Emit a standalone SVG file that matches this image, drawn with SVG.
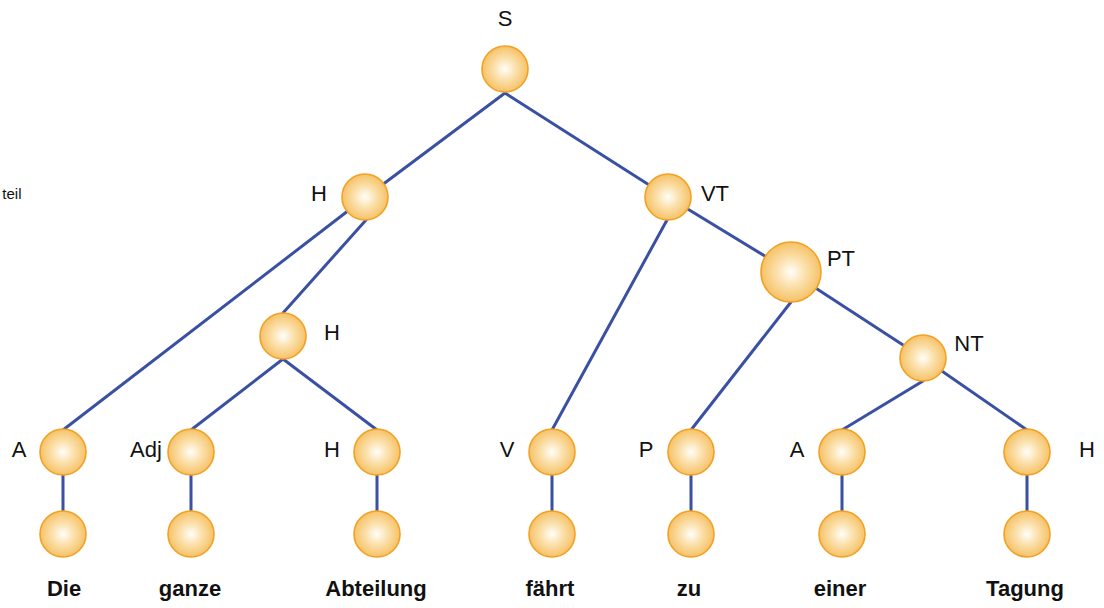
<svg xmlns="http://www.w3.org/2000/svg" width="1104" height="608" viewBox="0 0 1104 608">
<defs>
<radialGradient id="ball" cx="0.5" cy="0.5" r="0.5">
<stop offset="0" stop-color="#fffefa"/>
<stop offset="0.45" stop-color="#fbe2b0"/>
<stop offset="1" stop-color="#f6c266"/>
</radialGradient>
<style>
.n{fill:url(#ball);stroke:#f2a124;stroke-width:1.6}
.e{stroke:#3a51a3;stroke-width:3;fill:none;stroke-linecap:round}
.l{font-family:"Liberation Sans",Arial,sans-serif;font-size:22px;fill:#111;text-anchor:middle}
.w{font-family:"Liberation Sans",Arial,sans-serif;font-size:22px;font-weight:bold;fill:#111;text-anchor:middle}
</style>
</defs>
<rect width="1104" height="608" fill="#fff"/>
<g id="connectors">
<line class="e" x1="505" y1="93" x2="366" y2="197"/>
<line class="e" x1="505" y1="93" x2="668" y2="197"/>
<line class="e" x1="366" y1="197" x2="63" y2="430"/>
<line class="e" x1="366" y1="220" x2="283" y2="313"/>
<line class="e" x1="283" y1="359" x2="191" y2="430"/>
<line class="e" x1="283" y1="359" x2="377" y2="430"/>
<line class="e" x1="667" y1="220" x2="552" y2="430"/>
<line class="e" x1="668" y1="197" x2="791" y2="272"/>
<line class="e" x1="791" y1="302" x2="691" y2="430"/>
<line class="e" x1="791" y1="272" x2="923" y2="358"/>
<line class="e" x1="923" y1="381" x2="842" y2="430"/>
<line class="e" x1="923" y1="358" x2="1027" y2="430"/>
<line class="e" x1="63" y1="452" x2="63" y2="534"/>
<line class="e" x1="191" y1="452" x2="191" y2="534"/>
<line class="e" x1="377" y1="452" x2="377" y2="534"/>
<line class="e" x1="552" y1="452" x2="552" y2="534"/>
<line class="e" x1="691" y1="452" x2="691" y2="534"/>
<line class="e" x1="842" y1="452" x2="842" y2="534"/>
<line class="e" x1="1027" y1="452" x2="1027" y2="534"/>
</g>
<g id="n-S"><circle class="n" cx="505" cy="69" r="23"/><text class="l" x="505" y="26">S</text></g>
<g id="n-H1"><circle class="n" cx="365" cy="197" r="23"/><text class="l" x="319" y="201">H</text></g>
<g id="n-VT"><circle class="n" cx="668" cy="197" r="23"/><text class="l" x="715" y="201">VT</text></g>
<g id="n-PT"><circle class="n" cx="791" cy="272" r="30"/><text class="l" x="841" y="266">PT</text></g>
<g id="n-H2"><circle class="n" cx="283" cy="336" r="23"/><text class="l" x="332" y="340">H</text></g>
<g id="n-NT"><circle class="n" cx="923" cy="358" r="23"/><text class="l" x="969" y="351">NT</text></g>
<g id="n-A1"><circle class="n" cx="63" cy="452" r="23"/><text class="l" x="19" y="457">A</text></g>
<g id="n-Adj"><circle class="n" cx="191" cy="452" r="23"/><text class="l" x="146" y="457">Adj</text></g>
<g id="n-H3"><circle class="n" cx="377" cy="452" r="23"/><text class="l" x="332" y="457">H</text></g>
<g id="n-V"><circle class="n" cx="552" cy="452" r="23"/><text class="l" x="507" y="457">V</text></g>
<g id="n-P"><circle class="n" cx="691" cy="452" r="23"/><text class="l" x="646" y="457">P</text></g>
<g id="n-A2"><circle class="n" cx="842" cy="452" r="23"/><text class="l" x="797" y="457">A</text></g>
<g id="n-H4"><circle class="n" cx="1027" cy="452" r="23"/><text class="l" x="1087" y="457">H</text></g>
<g id="n-Die"><circle class="n" cx="63" cy="534" r="23"/><text class="w" x="64" y="596">Die</text></g>
<g id="n-ganze"><circle class="n" cx="191" cy="534" r="23"/><text class="w" x="190" y="596">ganze</text></g>
<g id="n-Abteilung"><circle class="n" cx="377" cy="534" r="23"/><text class="w" x="376" y="596">Abteilung</text></g>
<g id="n-faehrt"><circle class="n" cx="552" cy="534" r="23"/><text class="w" x="550" y="596">fährt</text></g>
<g id="n-zu"><circle class="n" cx="691" cy="534" r="23"/><text class="w" x="689" y="596">zu</text></g>
<g id="n-einer"><circle class="n" cx="842" cy="534" r="23"/><text class="w" x="840" y="596">einer</text></g>
<g id="n-Tagung"><circle class="n" cx="1027" cy="534" r="23"/><text class="w" x="1025" y="596">Tagung</text></g>
<text x="21.5" y="199" font-family="Liberation Sans, Arial, sans-serif" font-size="15" text-anchor="end" fill="#111">teil</text>
</svg>
